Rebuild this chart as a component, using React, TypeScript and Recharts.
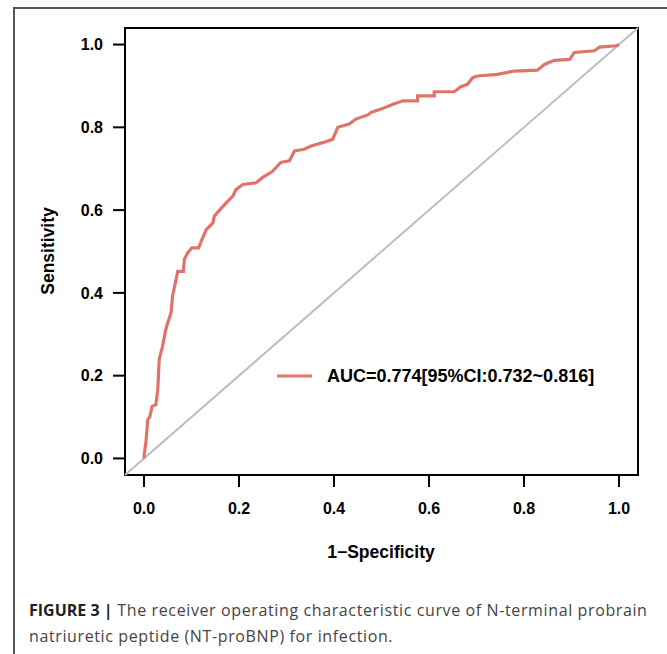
import React from "react";
import { LineChart, Line, XAxis, YAxis, ReferenceLine, ReferenceArea } from "recharts";

const fpr = [0, 0, 0.004, 0.008, 0.012, 0.017, 0.025, 0.029, 0.032, 0.039, 0.045, 0.05, 0.057, 0.06, 0.066, 0.071, 0.083, 0.085, 0.092, 0.101, 0.115, 0.122, 0.131, 0.145, 0.148, 0.166, 0.187, 0.194, 0.208, 0.236, 0.25, 0.27, 0.288, 0.306, 0.317, 0.337, 0.352, 0.376, 0.397, 0.408, 0.432, 0.446, 0.471, 0.478, 0.499, 0.524, 0.545, 0.576, 0.576, 0.611, 0.611, 0.653, 0.667, 0.681, 0.692, 0.702, 0.744, 0.779, 0.828, 0.843, 0.864, 0.896, 0.906, 0.948, 0.959, 0.994, 1.0];
const tpr = [0, 0.005, 0.039, 0.094, 0.1, 0.126, 0.13, 0.167, 0.239, 0.271, 0.307, 0.328, 0.352, 0.392, 0.424, 0.452, 0.452, 0.481, 0.497, 0.509, 0.509, 0.529, 0.553, 0.569, 0.585, 0.609, 0.634, 0.65, 0.662, 0.666, 0.679, 0.693, 0.715, 0.719, 0.743, 0.747, 0.755, 0.763, 0.771, 0.8, 0.808, 0.82, 0.83, 0.836, 0.844, 0.856, 0.864, 0.864, 0.876, 0.876, 0.886, 0.886, 0.898, 0.904, 0.92, 0.924, 0.928, 0.936, 0.938, 0.952, 0.962, 0.964, 0.981, 0.985, 0.994, 0.997, 1.0];
const xTicks = [0, 0.2, 0.4, 0.6, 0.8, 1.0];
const yTicks = [0, 0.2, 0.4, 0.6, 0.8, 1.0];
const legendLabel = "AUC=0.774[95%CI:0.732~0.816]";
const xLabel = "1\u2212Specificity";
const yLabel = "Sensitivity";

const data = fpr.map((f, i) => ({ fpr: f, tpr: tpr[i] }));

const CURVE = "#DF746D";
const FONT = "'Liberation Sans', Arial, Helvetica, sans-serif";

export default function App() {
  return (
    <div style={{ position: "absolute", left: 0, top: 0, width: 667, height: 654, overflow: "hidden", background: "#fff" }}>
      <div
        style={{
          position: "absolute",
          left: 13,
          top: 7,
          width: 700,
          height: 700,
          borderTop: "2px solid #555",
          borderLeft: "2px solid #555",
        }}
      />
      <div style={{ position: "absolute", left: 0, top: 0 }}>
        <LineChart
          width={667}
          height={654}
          data={data}
          margin={{ top: 28, right: 29, left: 65, bottom: 119 }}
        >
          <XAxis
            dataKey="fpr"
            type="number"
            domain={[-0.04, 1.04]}
            ticks={xTicks}
            tickFormatter={(v: number) => v.toFixed(1)}
            axisLine={false}
            tickLine={{ stroke: "#000", strokeWidth: 2 }}
            tickSize={12}
            tickMargin={16}
            height={60}
            tick={{ fill: "#000", fontFamily: FONT, fontWeight: "bold", fontSize: 16 }}
            allowDataOverflow
          />
          <YAxis
            type="number"
            domain={[-0.04, 1.04]}
            ticks={yTicks}
            tickFormatter={(v: number) => v.toFixed(1)}
            axisLine={false}
            tickLine={{ stroke: "#000", strokeWidth: 2 }}
            tickSize={12}
            tickMargin={10}
            width={60}
            tick={{ fill: "#000", fontFamily: FONT, fontWeight: "bold", fontSize: 16 }}
            allowDataOverflow
          />
          <ReferenceLine
            segment={[{ x: -0.04, y: -0.04 }, { x: 1.04, y: 1.04 }]}
            stroke="#BDBDBD"
            strokeWidth={2}
            ifOverflow="visible"
          />
          <Line
            type="linear"
            dataKey="tpr"
            stroke={CURVE}
            strokeWidth={3.2}
            dot={false}
            isAnimationActive={false}
          />
          <ReferenceArea
            x1={-0.04}
            x2={1.04}
            y1={-0.04}
            y2={1.04}
            fill="none"
            stroke="#000"
            strokeWidth={2}
            ifOverflow="visible"
          />
        </LineChart>
      </div>
      <svg style={{ position: "absolute", left: 277, top: 361 }} width={340} height={30}>
        <line x1={0} y1={15} x2={35} y2={15} stroke={CURVE} strokeWidth={3} />
        <text x={50} y={15} dy="0.355em" fontFamily={FONT} fontWeight="bold" fontSize={18} fill="#000">
          {legendLabel}
        </text>
      </svg>
      <div
        style={{
          position: "absolute",
          left: 0,
          width: 762,
          top: 542,
          textAlign: "center",
          fontFamily: FONT,
          fontWeight: "bold",
          fontSize: 17.5,
          color: "#000",
          whiteSpace: "nowrap",
        }}
      >
        {xLabel}
      </div>
      <div
        style={{
          position: "absolute",
          left: 48,
          top: 251,
          transform: "translate(-50%, -50%) rotate(-90deg)",
          fontFamily: FONT,
          fontWeight: "bold",
          fontSize: 17.5,
          color: "#000",
          whiteSpace: "nowrap",
        }}
      >
        {yLabel}
      </div>
      <div
        style={{
          position: "absolute",
          left: 29,
          top: 597,
          fontFamily: "'Open Sans', 'Noto Sans', sans-serif",
          fontSize: 16,
          letterSpacing: 0.62,
          lineHeight: "26px",
          color: "#444",
          whiteSpace: "nowrap",
        }}
      >
        <span style={{ fontWeight: "bold", color: "#222", letterSpacing: 0 }}>FIGURE 3 |</span> The receiver operating characteristic curve of N-terminal probrain
        <br />
        natriuretic peptide (NT-proBNP) for infection.
      </div>
    </div>
  );
}
